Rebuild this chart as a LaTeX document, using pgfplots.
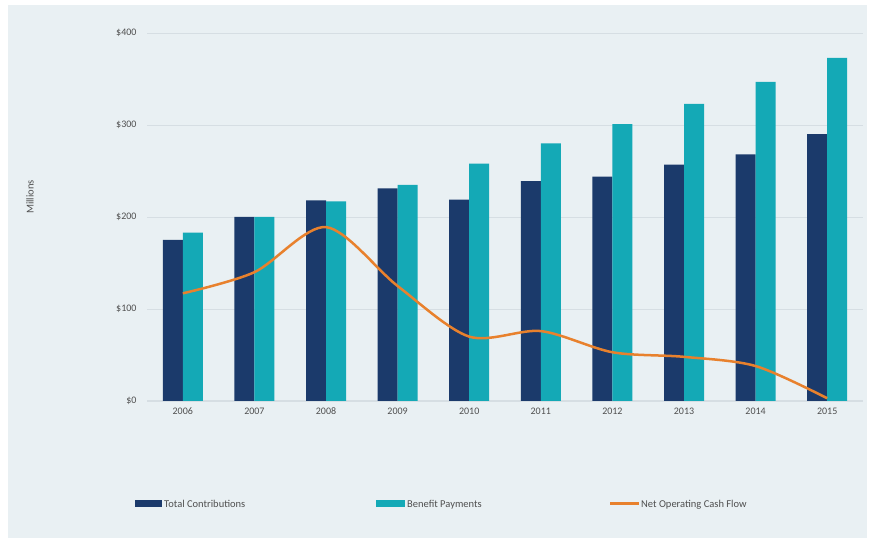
\documentclass[border=0pt]{standalone}
\usepackage{pgfplots}
\pgfplotsset{compat=1.18}
\usepackage{fontspec}
\setmainfont{Carlito}
\definecolor{navy}{HTML}{1B3A6B}
\definecolor{tealb}{HTML}{14A9B6}
\definecolor{orng}{HTML}{E8812D}
\definecolor{bgc}{HTML}{E9F0F3}
\definecolor{gridc}{HTML}{D6DEE3}
\definecolor{txt}{HTML}{4F4F4F}
\begin{document}
\begin{tikzpicture}[x=1pt,y=1pt]
\useasboundingbox (0,0) rectangle (870,541);
\fill[white] (0,0) rectangle (870,541);
\fill[bgc] (8,3) rectangle (867,536);
\begin{axis}[
  at={(147pt,140pt)}, anchor=south west,
  scale only axis, width=716pt, height=368pt,
  xmin=2005.5, xmax=2015.5, ymin=0, ymax=400,
  axis x line*=bottom, axis y line*=left,
  x axis line style={draw=gridc, line width=1pt, -},
  y axis line style={draw=none},
  major tick length=0pt,
  ymajorgrids, grid style={draw=gridc, line width=0.8pt},
  ytick={0,100,200,300,400},
  yticklabels={\$0,\$100,\$200,\$300,\$400},
  xtick={2006,2007,2008,2009,2010,2011,2012,2013,2014,2015},
  xticklabels={2006,2007,2008,2009,2010,2011,2012,2013,2014,2015},
  ticklabel style={font=\fontsize{10}{12}\selectfont, text=txt},
  yticklabel style={xshift=-7pt},
  xticklabel style={yshift=-3pt, text depth=0pt, text height=7pt},
  clip=false,
]
\addplot[ybar, bar width=20pt, bar shift=-10pt, fill=navy, draw=none] coordinates {
(2006,175) (2007,200) (2008,218) (2009,231) (2010,219) (2011,239) (2012,244) (2013,257) (2014,268) (2015,290)};
\addplot[ybar, bar width=20pt, bar shift=10pt, fill=tealb, draw=none] coordinates {
(2006,183) (2007,200) (2008,217) (2009,235) (2010,258) (2011,280) (2012,301) (2013,323) (2014,347) (2015,373)};
\addplot[orng, line width=2.5pt, smooth, tension=0.5, mark=none] coordinates {
(2006,117) (2007,140) (2008,189) (2009,125) (2010,70) (2011,76) (2012,53) (2013,48) (2014,38) (2015,3)};
\end{axis}
\node[rotate=90, text=txt, font=\fontsize{10.5}{12}\selectfont] at (30,344) {Millions};
% legend
\fill[navy] (135,34) rectangle (162,41);
\node[anchor=base west, inner sep=0pt, text=txt, font=\fontsize{10.5}{12}\selectfont] at (164,34) {Total Contributions};
\fill[tealb] (376,34) rectangle (405,41);
\node[anchor=base west, inner sep=0pt, text=txt, font=\fontsize{10.5}{12}\selectfont] at (407,34) {Benefit Payments};
\draw[orng, line width=2.5pt] (610,37.5) -- (639,37.5);
\node[anchor=base west, inner sep=0pt, text=txt, font=\fontsize{10.5}{12}\selectfont] at (641,34) {Net Operating Cash Flow};
\end{tikzpicture}
\end{document}
